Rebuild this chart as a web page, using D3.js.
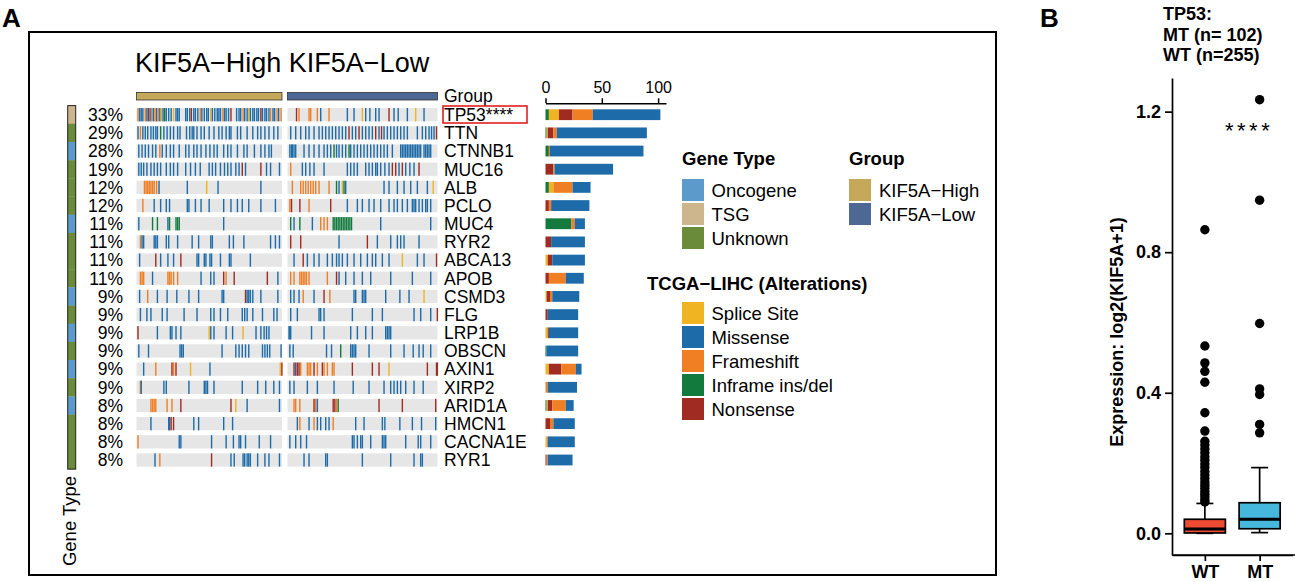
<!DOCTYPE html>
<html><head><meta charset="utf-8">
<script src="https://cdn.jsdelivr.net/npm/d3@7"></script>
<style>
body{margin:0;background:#fff}
svg{display:block}
text{font-family:Arial,"Liberation Sans",sans-serif;fill:#000}
</style>
</head><body>
<svg id="c" width="1295" height="582"></svg>
<script>
// ---------------- DATA ----------------
const genes = ["TP53","TTN","CTNNB1","MUC16","ALB","PCLO","MUC4","RYR2","ABCA13","APOB","CSMD3","FLG","LRP1B","OBSCN","AXIN1","XIRP2","ARID1A","HMCN1","CACNA1E","RYR1"];
const geneLabels = ["TP53****","TTN","CTNNB1","MUC16","ALB","PCLO","MUC4","RYR2","ABCA13","APOB","CSMD3","FLG","LRP1B","OBSCN","AXIN1","XIRP2","ARID1A","HMCN1","CACNA1E","RYR1"];
const percents = ["33%","29%","28%","19%","12%","12%","11%","11%","11%","11%","9%","9%","9%","9%","9%","9%","8%","8%","8%","8%"];
const geneTypes = ["TSG","Unknown","Oncogene","Unknown","Unknown","Unknown","Oncogene","Unknown","Unknown","Unknown","Oncogene","Unknown","Oncogene","Unknown","Oncogene","Unknown","Oncogene","Unknown","Unknown","Unknown"];
const groups = ["KIF5A\u2212High","KIF5A\u2212Low"];
const samplesPerGroup = [180, 180];
const geneTypeNames = ["Oncogene","TSG","Unknown"];
const altNames = ["Splice Site","Missense","Frameshift","Inframe ins/del","Nonsense"];

// stacked bar counts (order left to right: Inframe, Splice, Nonsense, Frameshift, Missense)
const inframeCounts    = [3,1,3,0,3,0,23,0,0,0,0,0,0,1,0,0,1,0,0,0];
const spliceCounts     = [9,1,0,0,4,0,0,0,2,0,1,0,2,0,3,0,1,0,1,0];
const nonsenseCounts   = [12,5,0,7,0,3,0,5,4,3,3,2,1,0,11,0,4,4,0,1];
const frameshiftCounts = [18,3,1,1,17,2,3,0,0,15,2,0,0,0,13,2,12,3,1,1];
const missenseCounts   = [60,80,83,52,16,34,9,30,29,16,24,27,26,28,5,26,7,19,24,22];
const barTicks = [0,50,100];

// per-sample alterations: "sampleIndex+code" (M missense, F frameshift, N nonsense, S splice, I inframe)
const highMutations = [
"1F 3M 5M 7M 10F 12M 14N 16M 18F 20M 22F 24M 26F 28M 30S 32M 34I 36M 39M 42M 45S 48M 50M 52M 60M 62M 65M 67N 70M 72M 75M 78F 80M 83M 86M 88M 91S 93M 96M 99M 101M 103M 106F 108M 110M 113M 116N 123M 126M 128M 131F 133M 136M 138S 140M 143M 145M 148M 150M 153N 155M 158M 160M 163M 165F 168M 170M 173F 175M 178F",
"1M 4F 7M 10M 13M 17M 20M 23M 25M 29I 33M 37M 41M 45M 50M 53M 61M 65M 68M 70M 74M 79M 83M 89M 95M 101M 105M 110M 114M 116M 124M 128M 136M 143M 149M 153M 158M 163M 169M 174M",
"2M 6M 10M 14M 19M 23M 28F 31M 36M 41M 45M 52M 60M 64M 70M 74M 79M 85M 90M 95M 99M 107M 112M 116M 124M 132M 136M 145M 153M 158M 163M 166M",
"2M 5M 8M 12M 17M 21M 25M 29M 36M 41M 45M 50M 60M 66M 72M 78M 89M 93M 97M 103M 108M 112M 116M 122M 126M 130N 134M 153N 160M 165M 176M",
"9F 11F 13F 15F 17F 19F 21F 24F 27M 62M 86S 100M 153M",
"7F 21M 29M 36M 40M 62M 64M 72M 79M 89M 107M 116M 124M 130M 138M 153M 171M",
"2M 19I 25I 38M 40I 48I 50I 52I 107M",
"4F 6M 8M 21M 23M 25M 36M 39M 50M 68M 76M 91M 93M 114M 119M 132M 165M 171M 176M",
"3M 23N 29M 38M 45M 54N 74M 76M 83M 85M 90M 92M 103M 114M 116M 140M",
"4F 6F 8F 19M 38F 40F 42F 45F 50F 79M 91M 95M 107N 110F 120N 161N 174M",
"3M 13F 25M 37M 49M 64M 76M 105M 107M 134N 136M 138M 140M 143M 153M 174M",
"4M 12M 17M 31M 37M 58M 74M 91M 95M 103M 112M 130M 133M 136M 143M 155M 169M 173M",
"1N 25M 41M 43M 48M 54M 89S 91M 95M 110M 118M 131S 147M 153M 157M 160M 163M",
"2M 14M 53M 55M 57M 105M 122M 126M 130M 134M 138M 155M 158M 161M 164M 178M",
"8M 23F 43N 45F 48N 66S 90M 177S 179N",
"4F 5M 33M 36M 64M 83M 85M 87M 95M 130M 149M 159M 169M 176M",
"17F 19F 21F 23F 37F 43F 54N 116N 122S 136M 176M",
"17M 39M 40M 42N 45N 70M 76M 107M 118M",
"1F 52M 54M 92M 110M 119M 126M 128M 134M 151M 165M",
"22M 28F 92N 116M 120M 131M 133M 136M 138M 140M 149M 158M 163M 176M"
];
const lowMutations = [
"10N 13F 25F 27F 35F 39M 49F 71M 79M 89S 93M 98M 105M 109M 121N 127M 132M 143M 153S 163M",
"3M 9M 15M 21M 25M 31M 37M 41M 45M 49M 53M 57M 61M 65M 69M 73N 77M 81M 85N 89M 93M 97M 101M 105N 109M 112N 115M 119M 123M 127M 131M 135M 139M 143M 155M 161M 165M 169M 172M 175M 178N",
"2M 4M 5M 7M 9M 19M 25M 31M 37M 43M 47M 51M 55I 58M 61M 65M 69M 73I 75M 79M 83M 87M 91M 95M 99M 103M 107M 111M 115M 119M 125M 135M 137M 139M 141M 143M 145M 147M 149M 151M 153M 155M 157M 159M 163M 165M 167M 169M 171M",
"3F 17M 21M 26M 31M 43M 71M 75M 79M 83M 93M 97M 101M 105M 107M 111M 116M 121M 125N 129N 133M 137N 141M 146M 151M 157N",
"5F 15F 18F 21F 24F 27F 30F 33F 37F 49F 58I 61M 65S 67I 69M 115M 121M 131M 139M 147M 155M 167M 174S",
"2F 4N 14N 25F 51N 71M 83M 89M 97M 103M 111M 121M 127M 131M 137M 143M 149M 151M 153M 157M 161M 165M 167M 171M",
"3I 7M 14I 29M 39F 43F 47F 54I 56I 58I 60I 62I 64I 66I 68I 70I 72I 74I 76I 111M 171M",
"3N 15N 61M 95N 107M 123M 131M 135M 139M 157M",
"7M 18N 23M 31M 37M 47M 53M 58M 61M 65M 71M 79M 87M 95M 101M 105M 113M 121M 137S 155M 163M 178N",
"3F 7F 14F 16F 18F 20F 22F 25F 47F 58N 61M 69M 79M 89M 99M 123M 149M 171M",
"3M 7M 13M 18F 31M 43N 50F 79M 81M 89M 91M 93M 117M 134M 145M 163S",
"3M 11M 37M 39M 43M 77M 101M 113M 151M 159M 171M 179N",
"1M 2M 3M 28M 43M 75M 83M 93M 101M 117M 119M 121M 123M",
"2M 6M 46M 52M 63I 75M 77M 79M 81M 97M 123M 139M 150M 157M 162M 171M",
"7N 9M 11N 13N 15F 23F 25F 27F 31N 35F 41N 43F 47F 53F 55F 77N 101N 109N 121S 167N 178N 179N",
"2M 7M 23M 35M 55M 78M 97M 115M 123M 127M 131M 135M 141M 151M 162M",
"7F 9F 14F 31N 33F 35M 54N 56N 58F 60I 109N 137N 177N",
"11M 14F 25M 31F 35M 39M 45M 49M 54F 81M 91M 113M 116M 134M 149M 160M 177M",
"2M 9M 15M 22M 77M 79M 83M 87M 89M 99M 113M 115M 117M 141M 156M 159M 171M",
"19M 25M 45M 47M 89M 123M 151M 159M 161M"
];

// Panel B: TP53 status vs KIF5A expression
const boxGroups = ["WT","MT"];
const wtStats = {lo:0.0, q1:0.001, med:0.012, q3:0.040, hi:0.085};
const mtStats = {lo:0.002, q1:0.013, med:0.040, q3:0.087, hi:0.187};
const wtOutliers = [0.864,0.533,0.485,0.461,0.430,0.343,0.291,0.262,0.251,0.240,0.229,0.218,0.208,0.197,0.187,0.176,0.166,0.156,0.146,0.137,0.128,0.119,0.111,0.103,0.095,0.089];
const mtOutliers = [1.234,0.948,0.597,0.411,0.395,0.310,0.286];
const yTicksB = [0.0,0.4,0.8,1.2];

// ---------------- STYLE ----------------
const altColor = {M:"#1D6CA9", F:"#F07F24", N:"#A02B20", S:"#F0B322", I:"#137A3D"};
const altLegendColor = {"Splice Site":altColor.S,"Missense":altColor.M,"Frameshift":altColor.F,"Inframe ins/del":altColor.I,"Nonsense":altColor.N};
const typeColor = {Oncogene:"#5C9ACB", TSG:"#CDB58C", Unknown:"#6A8C3A"};
const groupColor = ["#C6A85A","#4E6895"];
const FS = 17.5;

const svg = d3.select("#c");

// labels A / B
svg.append("text").attr("x",2).attr("y",27).attr("font-size",26).attr("font-weight","bold").text("A");
svg.append("text").attr("x",1040).attr("y",27).attr("font-size",26).attr("font-weight","bold").text("B");

// frame
svg.append("rect").attr("x",29).attr("y",32).attr("width",967).attr("height",543)
  .attr("fill","none").attr("stroke","#000").attr("stroke-width",2);

// title
svg.append("text").attr("x",135).attr("y",72).attr("font-size",27).text(groups[0]+" "+groups[1]);

// scales
const yRow = d3.scalePoint().domain(genes).range([114.7,460]);
const rowStep = yRow.step();
const rowH = 13.3;
const xGroup = [
  d3.scaleLinear().domain([0,samplesPerGroup[0]]).range([136.5,282]),
  d3.scaleLinear().domain([0,samplesPerGroup[1]]).range([287.5,437.5])
];

// group annotation bars
groups.forEach((g,i)=>{
  const r = xGroup[i].range();
  svg.append("rect").attr("x",r[0]).attr("y",92.5).attr("width",r[1]-r[0]).attr("height",7.5)
    .attr("fill",groupColor[i]).attr("stroke","#333").attr("stroke-width",0.8);
});
svg.append("text").attr("x",444).attr("y",101.5).attr("font-size",FS).text("Group");

// oncoprint rows
const onco = svg.append("g");
genes.forEach((g,gi)=>{
  const cy = yRow(g);
  [highMutations[gi], lowMutations[gi]].forEach((str,k)=>{
    const xs = xGroup[k];
    const r = xs.range();
    onco.append("rect").attr("x",r[0]).attr("y",cy-rowH/2).attr("width",r[1]-r[0]).attr("height",rowH).attr("fill","#E6E6E6");
    const muts = str.split(" ").map(t=>({i:+t.slice(0,-1), c:t.slice(-1)}));
    onco.selectAll(null).data(muts).enter().append("rect")
      .attr("x",d=>xs(d.i)).attr("y",cy-rowH/2).attr("width",1.4).attr("height",rowH)
      .attr("fill",d=>altColor[d.c]);
  });
});

// gene type bar
const gt = svg.append("g");
genes.forEach((g,gi)=>{
  gt.append("rect").attr("x",67.7).attr("y",yRow(g)-rowStep/2).attr("width",8).attr("height",rowStep+0.3)
    .attr("fill",typeColor[geneTypes[gi]]);
});
gt.append("rect").attr("x",67.7).attr("y",yRow(genes[0])-rowStep/2).attr("width",8)
  .attr("height",yRow(genes[genes.length-1])-yRow(genes[0])+rowStep)
  .attr("fill","none").attr("stroke","#222").attr("stroke-width",1);
svg.append("text").attr("transform","translate(76,521) rotate(-90)").attr("text-anchor","middle")
  .attr("font-size",18.5).text("Gene Type");

// percentages and gene labels
genes.forEach((g,gi)=>{
  svg.append("text").attr("x",123).attr("y",yRow(g)+6.3).attr("text-anchor","end").attr("font-size",FS).text(percents[gi]);
  svg.append("text").attr("x",444).attr("y",yRow(g)+6.3).attr("font-size",FS).text(geneLabels[gi]);
});
svg.append("rect").attr("x",443).attr("y",106).attr("width",84).attr("height",17)
  .attr("fill","none").attr("stroke","#E0201E").attr("stroke-width",1.6);

// stacked bars
const xBar = d3.scaleLinear().domain([0,107]).range([545.5,666]);
const barKeys = ["I","S","N","F","M"];
const barRows = genes.map((g,i)=>({gene:g, I:inframeCounts[i], S:spliceCounts[i], N:nonsenseCounts[i], F:frameshiftCounts[i], M:missenseCounts[i]}));
const stacked = d3.stack().keys(barKeys)(barRows);
const bars = svg.append("g");
stacked.forEach(layer=>{
  bars.selectAll(null).data(layer).enter().append("rect")
    .attr("x",d=>xBar(d[0])).attr("width",d=>Math.max(0,xBar(d[1])-xBar(d[0])))
    .attr("y",d=>yRow(d.data.gene)-5.4).attr("height",10.8)
    .attr("fill",altColor[layer.key]);
});
const barAxis = svg.append("g").attr("transform","translate(0,103.3)")
  .call(d3.axisTop(xBar).tickValues(barTicks).tickSize(5).tickSizeOuter(0).tickPadding(5));
barAxis.selectAll("text").attr("font-size",16).attr("font-family","Arial, Liberation Sans, sans-serif").attr("fill","#000");
barAxis.selectAll("path,line").attr("stroke","#000").attr("stroke-width",1.5);

// legends
function legend(title, tx, ty, items, colors, sx, sy, lx){
  svg.append("text").attr("x",tx).attr("y",ty).attr("font-size",18.5).attr("font-weight","bold").text(title);
  items.forEach((it,i)=>{
    svg.append("rect").attr("x",sx).attr("y",sy+i*24).attr("width",22).attr("height",22).attr("fill",colors[i]);
    svg.append("text").attr("x",lx).attr("y",sy+i*24+11+6.7).attr("font-size",18.5).text(it);
  });
}
legend("Gene Type",682,165,geneTypeNames,geneTypeNames.map(d=>typeColor[d]),682,179,711.5);
legend("Group",849,165,groups,groupColor,849,179,879);
legend("TCGA\u2212LIHC (Alterations)",647,290,altNames,altNames.map(d=>altLegendColor[d]),682,302,711.5);

// ---------------- Panel B ----------------
const yB = d3.scaleLinear().domain([-0.0617,1.2957]).range([555,78]);
const xB = d3.scalePoint().domain(boxGroups).range([1172,1292.5]).padding(0.6);
const bw = xB.step()*0.75;

["TP53:","MT (n= 102)","WT (n=255)"].forEach((t,i)=>{
  svg.append("text").attr("x",1163).attr("y",20+i*20.5).attr("font-size",18).attr("font-weight","bold").text(t);
});

const yAx = svg.append("g").attr("transform","translate(1172,0)")
  .call(d3.axisLeft(yB).tickValues(yTicksB).tickFormat(d3.format(".1f")).tickSize(7).tickSizeOuter(0).tickPadding(4));
const xAx = svg.append("g").attr("transform","translate(0,555)")
  .call(d3.axisBottom(xB).tickSize(6).tickSizeOuter(0).tickPadding(4.5));
[yAx,xAx].forEach(a=>{
  a.selectAll("text").attr("font-size",18).attr("font-weight","bold").attr("font-family","Arial, Liberation Sans, sans-serif").attr("fill","#000");
  a.selectAll("path,line").attr("stroke","#000").attr("stroke-width",1.7);
});
svg.append("line").attr("x1",1172).attr("x2",1295).attr("y1",555).attr("y2",555).attr("stroke","#000").attr("stroke-width",1.7);

svg.append("text").attr("transform","translate(1122.7,332) rotate(-90)").attr("text-anchor","middle")
  .attr("font-size",18).attr("font-weight","bold").text("Expression: log2(KIF5A+1)");

const boxColors = {WT:"#EF4B34", MT:"#46B8DC"};
[["WT",wtStats,wtOutliers],["MT",mtStats,mtOutliers]].forEach(([g,s,out])=>{
  const cx = xB(g);
  const gB = svg.append("g");
  gB.append("line").attr("x1",cx).attr("x2",cx).attr("y1",yB(s.hi)).attr("y2",yB(s.q3)).attr("stroke","#000").attr("stroke-width",1.7);
  gB.append("line").attr("x1",cx).attr("x2",cx).attr("y1",yB(s.q1)).attr("y2",yB(s.lo)).attr("stroke","#000").attr("stroke-width",1.7);
  gB.append("line").attr("x1",cx-8.5).attr("x2",cx+8.5).attr("y1",yB(s.hi)).attr("y2",yB(s.hi)).attr("stroke","#000").attr("stroke-width",1.7);
  gB.append("line").attr("x1",cx-8.5).attr("x2",cx+8.5).attr("y1",yB(s.lo)).attr("y2",yB(s.lo)).attr("stroke","#000").attr("stroke-width",1.7);
  gB.append("rect").attr("x",cx-bw/2).attr("y",yB(s.q3)).attr("width",bw).attr("height",yB(s.q1)-yB(s.q3))
    .attr("fill",boxColors[g]).attr("stroke","#000").attr("stroke-width",1.7);
  gB.append("line").attr("x1",cx-bw/2).attr("x2",cx+bw/2).attr("y1",yB(s.med)).attr("y2",yB(s.med)).attr("stroke","#000").attr("stroke-width",3);
  gB.selectAll("circle").data(out).enter().append("circle")
    .attr("cx",cx).attr("cy",d=>yB(d)).attr("r",4.7).attr("fill","#000");
});
svg.append("text").attr("x",1225).attr("y",138).attr("font-size",22).attr("letter-spacing",3.5).text("****");
</script>
</body></html>
